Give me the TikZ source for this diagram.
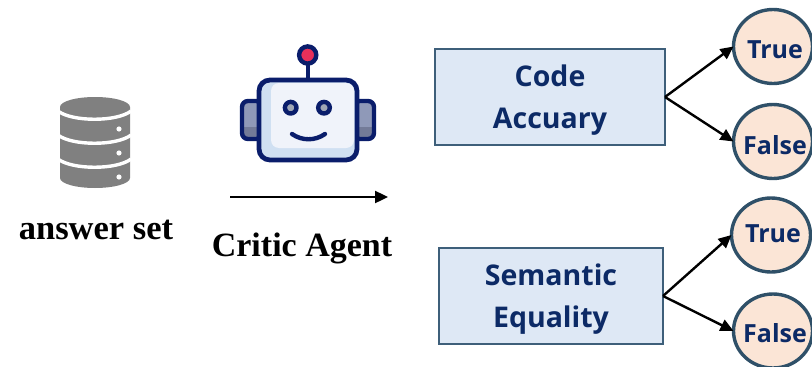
\documentclass[tikz,border=0pt]{standalone}
\usepackage{fontspec}
\setmainfont{Liberation Serif}
\newfontfamily\boxfont{Open Sans}
\usetikzlibrary{arrows.meta}
\usetikzlibrary{shapes.geometric}
\definecolor{navy}{HTML}{0A1D6B}
\definecolor{boxtext}{HTML}{0C2A66}
\definecolor{boxfill}{HTML}{DEE8F5}
\definecolor{edge}{HTML}{3E5F7A}
\definecolor{circfill}{HTML}{FBE5D6}
\definecolor{circedge}{HTML}{2F5068}
\definecolor{dbgray}{HTML}{808080}
\definecolor{earlight}{HTML}{8F99B8}
\definecolor{eardark}{HTML}{737B98}
\definecolor{facelight}{HTML}{F0F3FA}
\definecolor{facestrip}{HTML}{D0E0F2}
\definecolor{lamp}{HTML}{E8305A}
\definecolor{pupil}{HTML}{9FA6B5}
\newcommand{\lowered}[2][-3.5pt]{\raisebox{#1}[\height][\depth]{#2}}
\newcommand{\vlabel}[2][-3.5pt]{\makebox[0pt]{\hspace{4pt}\lowered[#1]{#2}}}
\tikzset{
  task/.style={draw=edge, fill=boxfill, line width=1.6pt, minimum width=#1, minimum height=96pt, inner sep=0pt, outer sep=0pt, align=center, text=boxtext, font=\boxfont\fontsize{28.5}{42}\selectfont\bfseries},
  verdict/.style={ellipse, draw=circedge, fill=circfill, line width=3.4pt, minimum width=79pt, minimum height=74pt, inner sep=0pt, outer sep=0pt, text=boxtext, font=\boxfont\fontsize{25}{28}\selectfont\bfseries},
  caption/.style={inner sep=0pt, font=\fontsize{#1}{#1}\selectfont\bfseries},
  link/.style={-{Triangle[length=13pt,width=12pt]}, line width=2.4pt},
  robotline/.style={navy, line width=4.4pt},
}
\begin{document}
\begin{tikzpicture}[x=1pt,y=-1pt]
  \useasboundingbox (0,0) rectangle (812,367);

  % answer set icon
  \fill[dbgray] (60,107) arc[x radius=35, y radius=10, start angle=180, end angle=360] -- (130,178) arc[x radius=35, y radius=10, start angle=0, end angle=180] -- cycle;
  \foreach \y in {111,135,159}
    {\draw[white, line width=3.4pt] (58,\y) .. controls (72,\y+11) and (117,\y+11) .. (131,\y);}
  \foreach \y in {129,153,177}
    {\fill[white] (119,\y) circle (2.6);}
  \node[caption=34.5] (answer) at (96,230) {answer set};

  % robot
  \foreach \x in {242,354}
    {\fill[earlight] (\x,101) rectangle (\x+20,139);
     \fill[eardark] (\x,127) rectangle (\x+20,139);
     \draw[robotline, rounded corners=6pt] (\x,101) rectangle (\x+20,139);}
  \draw[robotline] (307.7,62) -- (307.7,80);
  \draw[robotline, fill=lamp] (307.7,55) circle (8.6);
  \draw[robotline, line width=4.8pt, rounded corners=11pt, fill=facestrip] (259,80) rectangle (357,160);
  \fill[rounded corners=8pt, facelight] (271,83) rectangle (354,148);
  \foreach \x in {290.7,324}
    {\draw[robotline, fill=pupil] (\x,107.7) circle (5.8);}
  \draw[robotline, line cap=round] (292,134) .. controls (302,141) and (315,141) .. (325,134);

  % critic agent arrow
  \coordinate (from) at (230,197);
  \coordinate (to) at (388,197);
  \draw[link] (from) -- (to);
  \node[caption=34] (critic) at (302,248) {Critic Agent};

  % tasks
  \node[task=230pt] (code) at (550,97) {\lowered{Code}\\\lowered{Accuary}};
  \node[task=224pt] (semantic) at (551,296) {\lowered{Semantic}\\\lowered{Equality}};

  % verdicts
  \node[verdict] (t1) at (773,46.5) {\vlabel{True}};
  \node[verdict] (f1) at (773,141.5) {\vlabel{False}};
  \node[verdict] (t2) at (771,235) {\vlabel[1pt]{True}};
  \node[verdict] (f2) at (773,331) {\vlabel[-2.5pt]{False}};

  \draw[link] (code.east) -- (t1.west);
  \draw[link] (code.east) -- (f1.west);
  \draw[link] (semantic.east) -- (t2.west);
  \draw[link] (semantic.east) -- (f2.west);
\end{tikzpicture}
\end{document}
